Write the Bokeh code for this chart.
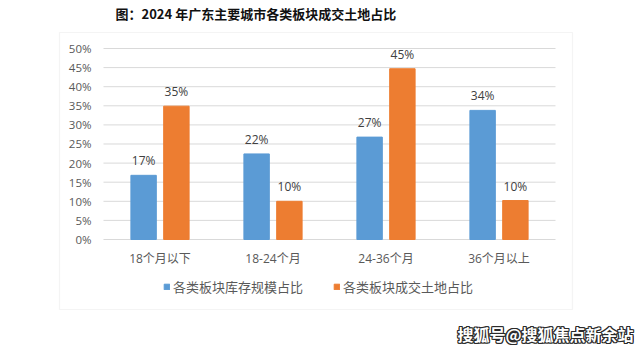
import numpy as np
from bokeh.plotting import figure
from bokeh.models import (ColumnDataSource, Range1d, Legend, LegendItem, Label, BoxAnnotation)
from bokeh.core.properties import value
from bokeh.embed import file_html
from bokeh.resources import INLINE

categories = ["18个月以下", "18-24个月", "24-36个月", "36个月以上"]
series_names = ["各类板块库存规模占比", "各类板块成交土地占比"]
stock_share = [0.168, 0.224, 0.268, 0.338]
deal_share = [0.349, 0.100, 0.447, 0.102]
stock_labels = ["17%", "22%", "27%", "34%"]
deal_labels = ["35%", "10%", "45%", "10%"]
y_ticks = [0, 0.05, 0.10, 0.15, 0.20, 0.25, 0.30, 0.35, 0.40, 0.45, 0.50]
y_tick_labels = ["0%", "5%", "10%", "15%", "20%", "25%", "30%", "35%", "40%", "45%", "50%"]
title_text = "图：2024 年广东主要城市各类板块成交土地占比"
watermark = "搜狐号@搜狐焦点新余站"

BLUE = "#5B9BD5"
ORANGE = "#ED7D31"
GRID = "#D9D9D9"
TXT = "#595959"
LATIN = "Open Sans"
CJK = "Noto Sans CJK SC"

n = len(categories)
xc = np.arange(n, dtype=float)
off = 0.145
bw = 0.225

# ranges chosen so the plot area sits where the reference draws it
p = figure(width=642, height=355,
           x_range=Range1d(-1.4115, 4.2699), y_range=Range1d(-0.30366, 0.62565),
           output_backend="svg", toolbar_location=None, min_border=0)
p.axis.visible = False
p.grid.visible = False
p.outline_line_color = None
p.background_fill_color = "white"
p.border_fill_color = "white"

# outer chart box
p.add_layout(BoxAnnotation(left=59, right=572, top=323, bottom=46,
                           left_units="screen", right_units="screen",
                           top_units="screen", bottom_units="screen",
                           fill_color=None, line_color=GRID, line_width=1.2))

# gridlines across the plot area
p.segment(x0=[-0.5] * len(y_ticks), x1=[n - 0.5] * len(y_ticks), y0=y_ticks, y1=y_ticks,
          line_color=GRID, line_width=1)

src = ColumnDataSource(dict(xs=xc - off, xd=xc + off, stock=stock_share, deal=deal_share,
                            sl=stock_labels, dl=deal_labels))
r1 = p.vbar(x="xs", top="stock", width=bw, source=src, color=BLUE)
r2 = p.vbar(x="xd", top="deal", width=bw, source=src, color=ORANGE)

p.text(x="xs", y="stock", text="sl", source=src, text_align="center",
       text_baseline="bottom", y_offset=-6, text_font=value(LATIN),
       text_font_size="12px", text_color="#404040")
p.text(x="xd", y="deal", text="dl", source=src, text_align="center",
       text_baseline="bottom", y_offset=-6, text_font=value(LATIN),
       text_font_size="12px", text_color="#404040")

# y tick labels
p.text(x=[-0.5] * len(y_ticks), y=y_ticks, text=y_tick_labels, x_offset=-12,
       text_align="right", text_baseline="middle", text_font=value(LATIN),
       text_font_size="11.5px", text_color=TXT)

# category labels
p.text(x=xc, y=[0] * n, text=categories, y_offset=10, text_align="center",
       text_baseline="top", text_font=value(LATIN + ", " + CJK),
       text_font_size="12px", text_color=TXT)

legend = Legend(items=[LegendItem(label=series_names[0], renderers=[r1]),
                       LegendItem(label=series_names[1], renderers=[r2])],
                orientation="horizontal", location=(163, 59),
                glyph_width=7, glyph_height=7, spacing=30, label_standoff=3,
                label_text_font=CJK, label_text_font_size="13px", label_text_color=TXT,
                border_line_color=None, background_fill_alpha=0, padding=2, margin=0)
p.add_layout(legend)

p.add_layout(Label(x=115, y=342, x_units="screen", y_units="screen", text=title_text,
                   text_font=CJK, text_font_style="bold",
                   text_font_size="13px", text_color="#111111", text_baseline="middle"))

# watermark: white text with a dark outline
for dx, dy in [(-1, 0), (1, 0), (0, -1), (0, 1), (-1, -1), (1, 1), (-1, 1), (1, -1)]:
    p.add_layout(Label(x=457 + dx, y=22 + dy, x_units="screen", y_units="screen",
                       text=watermark, text_font=CJK, text_font_style="bold",
                       text_font_size="16px", text_color="#2a2a2a",
                       text_baseline="middle"))
p.add_layout(Label(x=457, y=22, x_units="screen", y_units="screen",
                   text=watermark, text_font=CJK, text_font_style="bold",
                   text_font_size="16px", text_color="white", text_baseline="middle"))

open("out.html", "w").write(file_html(p, INLINE))
